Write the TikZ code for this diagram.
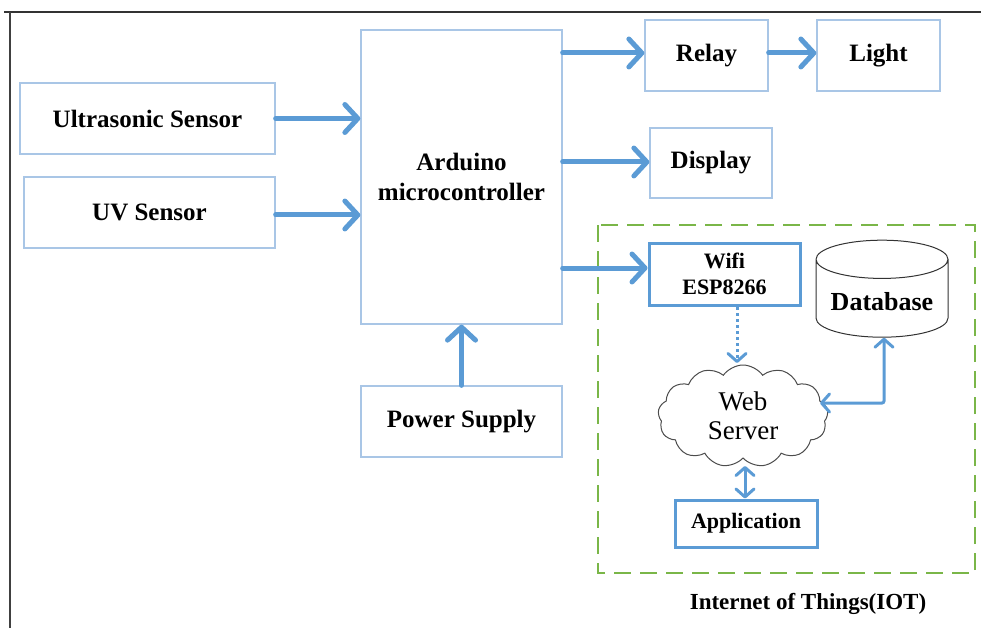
\documentclass[tikz,border=0pt]{standalone}
\usepackage{fontspec}
\setmainfont{Liberation Serif}
\usetikzlibrary{arrows.meta,shapes.geometric,shapes.symbols}
\definecolor{arrowblue}{HTML}{5B9BD5}
\definecolor{boxblue}{HTML}{A9C6E6}
\definecolor{iotgreen}{HTML}{7AB648}
\tikzset{
  blk/.style={draw=boxblue, line width=1.3pt, fill=white, font=\fontsize{25}{27}\selectfont\bfseries, align=center, inner sep=0pt},
  strongblk/.style={draw=arrowblue, line width=3pt, fill=white, font=\fontsize{22}{26}\selectfont\bfseries, align=center, inner sep=0pt},
  flow/.style={draw=arrowblue, line width=5pt, line cap=round, -{Straight Barb[length=13pt,width=28pt,line width=5pt, round]}},
  flowthin/.style={draw=arrowblue, line width=3pt, line cap=round, {Straight Barb[length=8pt,width=18pt,line width=3pt, round]}-{Straight Barb[length=8pt,width=18pt,line width=3pt, round]}},
}
\begin{document}
\begin{tikzpicture}[x=1pt,y=-1pt]
\useasboundingbox (0,0) rectangle (981,628);
% outer frame
\draw[line width=2pt, black!80] (4,12) -- (981,12);
\draw[line width=2.5pt, black!75] (10,12) -- (10,628);
% blocks
\node[blk, minimum width=255pt, minimum height=71pt] (us) at (147.5,118.5) {Ultrasonic Sensor};
\node[blk, minimum width=251pt, minimum height=71pt] (uv) at (149.5,212.5) {UV Sensor};
\node[blk, minimum width=201pt, minimum height=294pt] (ard) at (461.5,177) {Arduino\\[3pt]microcontroller};
\node[blk, minimum width=201pt, minimum height=71pt] (ps) at (461.5,421.5) {Power Supply};
\node[blk, minimum width=123pt, minimum height=71pt] (relay) at (706.5,55.5) {Relay};
\node[blk, minimum width=123pt, minimum height=71pt] (light) at (878.5,55.5) {Light};
\node[blk, minimum width=122pt, minimum height=70pt] (disp) at (711,163) {Display};
% IOT group
\draw[iotgreen, line width=2.5pt, dash pattern=on 17pt off 9pt] (598,225) rectangle (975,573);
\node[font=\fontsize{23}{25}\selectfont\bfseries] (iotlbl) at (808,604) {Internet of Things(IOT)};
\node[strongblk, minimum width=151pt, minimum height=62pt] (wifi) at (724.5,274) {Wifi\\ESP8266};
\node[cylinder, shape border rotate=90, draw=black!80, line width=1pt, aspect=0.35, minimum width=132pt, minimum height=97pt, font=\fontsize{26}{28}\selectfont\bfseries, fill=white] (db) at (882,301.5) {Database};
\node[cloud, cloud puffs=13, cloud puff arc=110, aspect=1.9, draw=black!70, line width=1pt, minimum width=170pt, minimum height=102pt, inner sep=0pt, font=\fontsize{27}{29}\selectfont, align=center, fill=white] (web) at (743,416) {Web\\[0pt]Server};
\node[strongblk, minimum width=142pt, minimum height=47pt] (app) at (746,523.5) {Application};
% connectors
\draw[flow] (us.east) -- (ard.west |- us.east);
\draw[flow] (uv.east |- 0,215) -- (ard.west |- 0,215);
\draw[flow] (ard.east |- 0,53) -- (relay.west |- 0,53);
\draw[flow] (relay.east |- 0,53) -- (light.west |- 0,53);
\draw[flow] (ard.east |- 0,162) -- (disp.west |- 0,162);
\draw[flow] (ard.east |- 0,268) -- (wifi.west |- 0,268);
\draw[flow] (ps.north) -- (ard.south);
\coordinate (dbturn) at (884,403);
\coordinate (webin) at (820,403);
\draw[draw=arrowblue, line width=3pt, dash pattern=on 3pt off 3pt, -{Straight Barb[length=8pt,width=18pt,line width=3pt, round]}] (737,307) -- (737,363);
\draw[flowthin, rounded corners=2pt] (db.south -| dbturn) -- (dbturn) -- (webin);
\draw[flowthin] (745,466) -- (app.north -| 745,0);
\end{tikzpicture}
\end{document}
